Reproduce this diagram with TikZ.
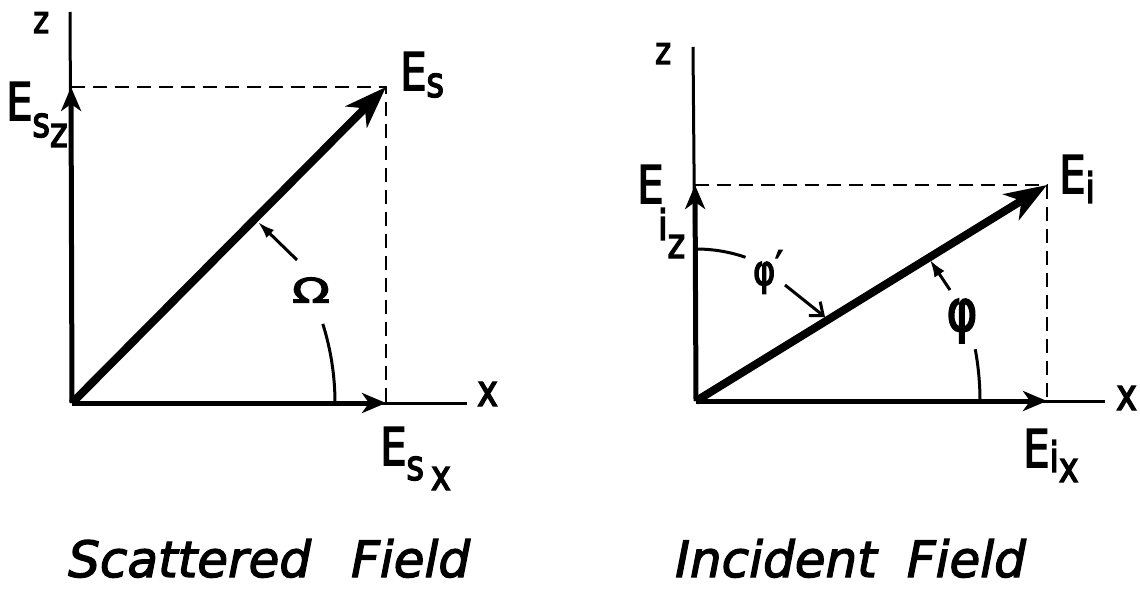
\documentclass[tikz,border=0pt]{standalone}
\usepackage{fontspec}
\setmainfont{DejaVu Sans}
\newfontfamily\lblfont[FakeStretch=0.8,FakeBold=3]{DejaVu Sans}
\newfontfamily\capfont[FakeBold=2.5]{DejaVu Sans}
\usetikzlibrary{arrows.meta,calc}
\newcommand\Lbig{\lblfont\fontsize{52}{56}\selectfont}
\newcommand\Lsub{\lblfont\fontsize{42}{46}\selectfont}
\newcommand\Lax{\lblfont\fontsize{44}{48}\selectfont}
\newcommand\Lz{\lblfont\fontsize{38}{40}\selectfont}
\newcommand\dn[2]{\raisebox{-#1pt}{#2}}
\begin{document}
\begin{tikzpicture}[x=1pt,y=1pt,
  axis/.style={line width=3pt},
  comp/.style={line width=5pt,-{Stealth[length=24pt,width=20pt,inset=7pt]}},
  vec/.style={line width=8pt,-{Stealth[length=42pt,width=30pt,inset=12pt]}},
  proj/.style={line width=2.5pt,dash pattern=on 14pt off 8pt},
  angarc/.style={line width=3pt},
  lbl/.style={inner sep=0pt,anchor=base west},
  captxt/.style={inner sep=0pt,anchor=base west,font=\capfont\itshape\fontsize{50}{54}\selectfont},
]
\useasboundingbox (0,0) rectangle (1140,590);
% ---------- left: scattered field ----------
\coordinate (O1) at (72,187);
\coordinate (Ztop1) at (70,578);
\coordinate (Ez1) at (71,503);
\coordinate (Es) at (386,503);
\coordinate (Ex1) at (386,187);
\coordinate (Xend1) at (467,187);
\draw[axis] (O1) -- (Ztop1);
\draw[axis] (O1) -- (Xend1);
\draw[proj] (Ez1) -- (Es) -- (Ex1);
\draw[comp] (O1) -- (Ez1);
\draw[comp] (O1) -- (Ex1);
\draw[vec] (O1) -- (Es);
\draw[angarc] ($(O1)+(0:263)$) arc[start angle=0,end angle=17.5,radius=263];
\coordinate (Wt) at (297,330);
\coordinate (Wh) at (258,368);
\draw[angarc,-{Latex[length=17pt,width=11pt]}] (Wt) -- (Wh);
\node[inner sep=0pt] (Omega) at (311,300) {\scalebox{1.8}[1]{\lblfont\fontsize{34}{36}\selectfont Ω}};
\node[lbl] (z1) at (33,557) {\Lz z};
\node[lbl] (x1) at (477,184) {\Lax x};
\node[lbl] (EsL) at (400,500) {\Lbig E\dn{7}{\Lsub s}};
\node[lbl] (EszL) at (6,470) {\Lbig E\dn{17}{\Lsub s\dn{10}{z}}};
\node[lbl] (EsxL) at (380,125) {\Lbig E\dn{15}{\Lsub s\,\dn{10}{x}}};
\node[captxt] (capL) at (68,13) {Scattered\hspace{0.8em}Field};
% ---------- right: incident field ----------
\coordinate (O2) at (696,189);
\coordinate (Ztop2) at (693,543);
\coordinate (Ez2) at (695,405);
\coordinate (Ei) at (1047,405);
\coordinate (Ex2) at (1047,189);
\coordinate (Xend2) at (1105,189);
\draw[axis] (O2) -- (Ztop2);
\draw[axis] (O2) -- (Xend2);
\draw[proj] (Ez2) -- (Ei) -- (Ex2);
\draw[comp] (O2) -- (Ez2);
\draw[comp] (O2) -- (Ex2);
\draw[vec] (O2) -- (Ei);
\draw[angarc] ($(O2)+(90:152)$) arc[start angle=90,end angle=71,radius=152];
\draw[angarc] ($(O2)+(0:284)$) arc[start angle=0,end angle=10.5,radius=284];
\coordinate (Pt) at (785,305);
\coordinate (Ph) at (825,273);
\draw[angarc,-{Straight Barb[length=11pt,width=18pt]}] (Pt) -- (Ph);
\coordinate (Qt) at (950,300);
\coordinate (Qh) at (930,330);
\draw[angarc,-{Latex[length=17pt,width=12pt]}] (Qt) -- (Qh);
\node[inner sep=0pt] (phip) at (768,318) {\lblfont\fontsize{42}{44}\selectfont φ\raisebox{4pt}{′}};
\node[inner sep=0pt] (phi) at (962,269) {\lblfont\fontsize{58}{60}\selectfont φ};
\node[lbl] (z2) at (655,526) {\Lz z};
\node[lbl] (x2) at (1116,180) {\Lax x};
\node[lbl] (EiL) at (1059,397) {\Lbig E\dn{10}{\Lsub i}};
\node[lbl] (EizE) at (637,387) {\Lbig E};
\node[lbl] (EizS) at (658,350) {\Lsub i\dn{18}{z}};
\node[lbl] (EixL) at (1023,123) {\Lbig E\dn{5}{\Lsub i\dn{10}{x}}};
\node[captxt] (capR) at (675,13) {Incident\hspace{0.6em}Field};
\end{tikzpicture}
\end{document}
